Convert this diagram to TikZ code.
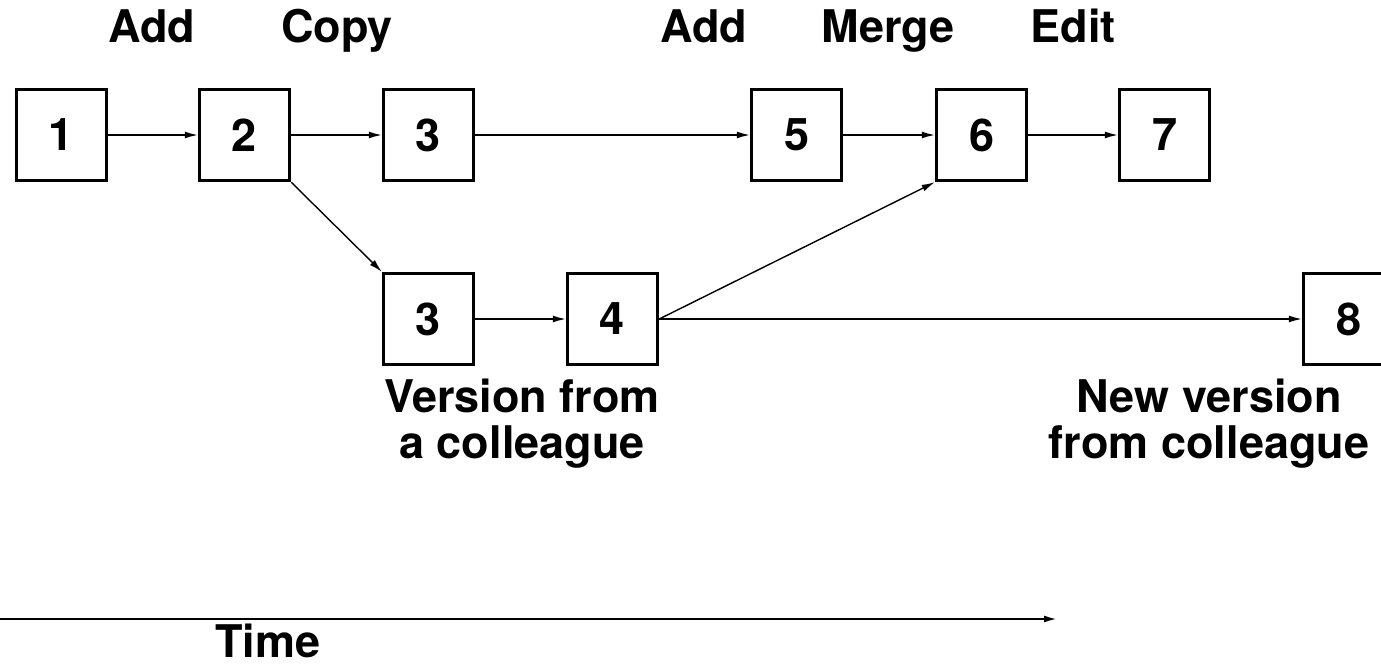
\documentclass[tikz,border=0pt]{standalone}
\usepackage{fontspec}
\setsansfont{TeX Gyre Heros}
\usetikzlibrary{arrows.meta}
\usetikzlibrary{positioning}

\tikzset{
  version/.style={draw, line width=3.5pt, minimum width=90pt, minimum height=91pt, inner sep=0pt},
  lbl/.style={inner sep=0pt},
  edge/.style={line width=1.4pt, -{Latex[length=13pt,width=7pt]}},
}

\begin{document}
\begin{tikzpicture}[x=1pt, y=1pt, font=\sffamily\bfseries\fontsize{45}{46}\selectfont]
    \useasboundingbox (0,0) rectangle (1381,665);
    \node[version] (b1) at (61.5,530) {1};
    \node[version] (b2) at (244.5,530) {2};
    \node[version] (b3) at (428.5,530) {3};
    \node[version] (b5) at (796.5,530) {5};
    \node[version] (b6) at (981.5,530) {6};
    \node[version] (b7) at (1164.5,530) {7};
    \node[version] (c3) at (428.5,346) {3};
    \node[version] (c4) at (612.5,346) {4};
    \node[version] (c8) at (1348.5,346) {8};

    \node[lbl, anchor=base] (addA) at (152,622) {Add};
    \node[lbl, anchor=base] (copy) at (337,622) {Copy};
    \node[lbl, anchor=base] (addB) at (704,622) {Add};
    \node[lbl, anchor=base] (merge) at (888,622) {Merge};
    \node[lbl, anchor=base] (edit) at (1073,622) {Edit};
    \node[lbl, anchor=north, align=center] (colleague) at (522,286) {Version from\\a colleague};
    \node[lbl, anchor=north, align=center] (newcolleague) at (1209,286) {New version\\from colleague};

    \draw[edge] (b1) -- (b2);
    \draw[edge] (b2) -- (b3);
    \draw[edge] (b3) -- (b5);
    \draw[edge] (b5) -- (b6);
    \draw[edge] (b6) -- (b7);
    \draw[edge] (b2.south east) -- (c3.north west);
    \draw[edge] (c3) -- (c4);
    \draw[edge] (c4.east) -- (b6.south west);
    \draw[edge] (c4) -- (c8);

    \coordinate (t0) at (0,46);
    \coordinate (t1) at (1057,46);
    \draw[edge, line width=2pt] (t0) -- (t1);
    \node[lbl, anchor=base] (time) at (268,8) {Time};
\end{tikzpicture}
\end{document}
